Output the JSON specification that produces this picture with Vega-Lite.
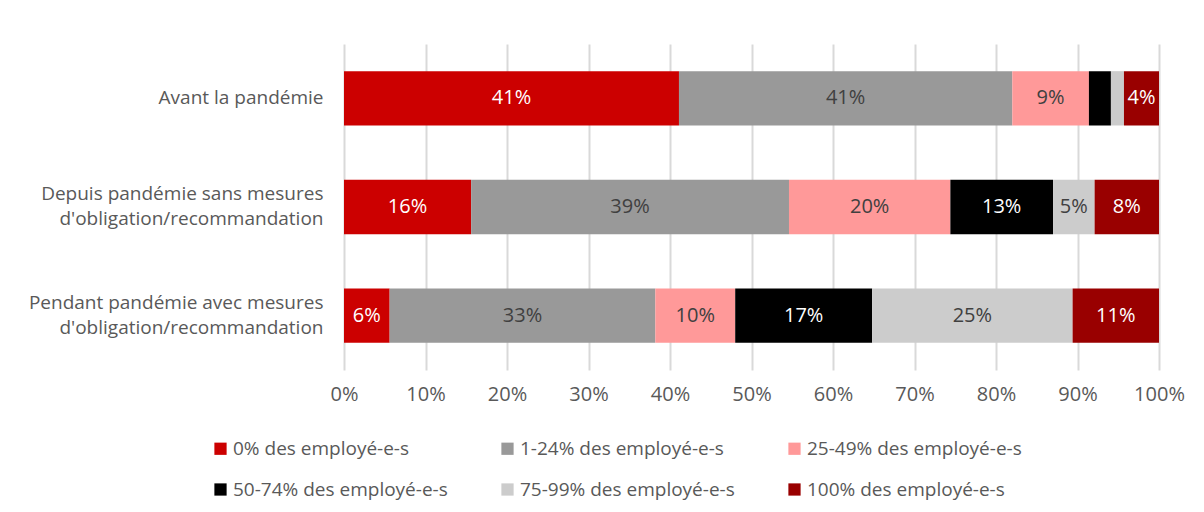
{
  "$schema": "https://vega.github.io/schema/vega-lite/v6.json",
  "width": 815,
  "height": 326,
  "autosize": {"type": "none"},
  "padding": {"left": 344, "top": 44, "right": 45, "bottom": 142},
  "background": "white",
  "config": {
    "font": "Open Sans",
    "view": {"stroke": null}
  },
  "data": {
    "values": [
      {"q": "Avant la pandémie", "cat": "0% des employé-e-s", "v": 41.1},
      {"q": "Avant la pandémie", "cat": "1-24% des employé-e-s", "v": 40.9},
      {"q": "Avant la pandémie", "cat": "25-49% des employé-e-s", "v": 9.4},
      {"q": "Avant la pandémie", "cat": "50-74% des employé-e-s", "v": 2.7},
      {"q": "Avant la pandémie", "cat": "75-99% des employé-e-s", "v": 1.6},
      {"q": "Avant la pandémie", "cat": "100% des employé-e-s", "v": 4.3},
      {"q": "Depuis pandémie sans mesures d'obligation/recommandation", "cat": "0% des employé-e-s", "v": 15.6},
      {"q": "Depuis pandémie sans mesures d'obligation/recommandation", "cat": "1-24% des employé-e-s", "v": 39.0},
      {"q": "Depuis pandémie sans mesures d'obligation/recommandation", "cat": "25-49% des employé-e-s", "v": 19.8},
      {"q": "Depuis pandémie sans mesures d'obligation/recommandation", "cat": "50-74% des employé-e-s", "v": 12.6},
      {"q": "Depuis pandémie sans mesures d'obligation/recommandation", "cat": "75-99% des employé-e-s", "v": 5.1},
      {"q": "Depuis pandémie sans mesures d'obligation/recommandation", "cat": "100% des employé-e-s", "v": 7.9},
      {"q": "Pendant pandémie avec mesures d'obligation/recommandation", "cat": "0% des employé-e-s", "v": 5.6},
      {"q": "Pendant pandémie avec mesures d'obligation/recommandation", "cat": "1-24% des employé-e-s", "v": 32.6},
      {"q": "Pendant pandémie avec mesures d'obligation/recommandation", "cat": "25-49% des employé-e-s", "v": 9.8},
      {"q": "Pendant pandémie avec mesures d'obligation/recommandation", "cat": "50-74% des employé-e-s", "v": 16.8},
      {"q": "Pendant pandémie avec mesures d'obligation/recommandation", "cat": "75-99% des employé-e-s", "v": 24.6},
      {"q": "Pendant pandémie avec mesures d'obligation/recommandation", "cat": "100% des employé-e-s", "v": 10.6}
    ]
  },
  "transform": [
    {"calculate": "indexof(['0% des employé-e-s','1-24% des employé-e-s','25-49% des employé-e-s','50-74% des employé-e-s','75-99% des employé-e-s','100% des employé-e-s'], datum.cat)", "as": "rank"},
    {"stack": "v", "groupby": ["q"], "sort": [{"field": "rank", "order": "ascending"}], "as": ["x0", "x1"]},
    {"calculate": "(datum.x0 + datum.x1) / 2", "as": "xm"},
    {"calculate": "format(datum.v, '.0f') + '%'", "as": "lab"}
  ],
  "encoding": {
    "y": {
      "field": "q",
      "type": "nominal",
      "sort": ["Avant la pandémie", "Depuis pandémie sans mesures d'obligation/recommandation", "Pendant pandémie avec mesures d'obligation/recommandation"],
      "scale": {"paddingInner": 0.5, "paddingOuter": 0.25},
      "axis": {
        "title": null,
        "domain": false,
        "ticks": false,
        "labelPadding": 21,
        "labelFontSize": 19,
        "labelColor": "#595959",
        "labelLineHeight": 25,
        "labelLimit": 400,
        "labelOffset": {"condition": {"test": "indexof(datum.value, \" d'\") > 0", "value": -13}, "value": 0},
        "labelExpr": "indexof(datum.label, \" d'\") > 0 ? [slice(datum.label, 0, indexof(datum.label, \" d'\")), slice(datum.label, indexof(datum.label, \" d'\") + 1)] : datum.label"
      }
    }
  },
  "layer": [
    {
      "mark": {"type": "bar"},
      "encoding": {
        "x": {
          "field": "x0",
          "type": "quantitative",
          "scale": {"domain": [0, 100], "nice": false},
          "axis": {
            "title": null,
            "values": [0, 10, 20, 30, 40, 50, 60, 70, 80, 90, 100],
            "labelExpr": "datum.value + '%'",
            "domain": false,
            "ticks": false,
            "grid": true,
            "gridColor": "#d9d9d9",
            "gridWidth": 2,
            "labelPadding": 14,
            "labelFontSize": 20,
            "labelColor": "#595959",
            "labelFlush": false
          }
        },
        "x2": {"field": "x1"},
        "color": {
          "field": "cat",
          "type": "nominal",
          "scale": {
            "domain": ["0% des employé-e-s", "1-24% des employé-e-s", "25-49% des employé-e-s", "50-74% des employé-e-s", "75-99% des employé-e-s", "100% des employé-e-s"],
            "range": ["#cc0000", "#999999", "#ff9999", "#000000", "#cccccc", "#990000"]
          },
          "legend": {
            "title": null,
            "orient": "none",
            "direction": "horizontal",
            "legendX": -133,
            "legendY": 395,
            "columns": 3,
            "symbolType": "square",
            "symbolSize": 150,
            "symbolStrokeWidth": 0,
            "labelFontSize": 19,
            "labelColor": "#595959",
            "labelOffset": 3,
            "labelLimit": 400,
            "rowPadding": 21,
            "columnPadding": 50
          }
        }
      }
    },
    {
      "mark": {"type": "text", "fontSize": 20, "align": "center", "baseline": "middle"},
      "transform": [{"filter": "datum.v >= 3"}],
      "encoding": {
        "x": {"field": "xm", "type": "quantitative"},
        "text": {"field": "lab", "type": "nominal"},
        "color": {
          "condition": {"test": "datum.rank == 1 || datum.rank == 2 || datum.rank == 4", "value": "#404040"},
          "value": "#ffffff"
        }
      }
    }
  ]
}
